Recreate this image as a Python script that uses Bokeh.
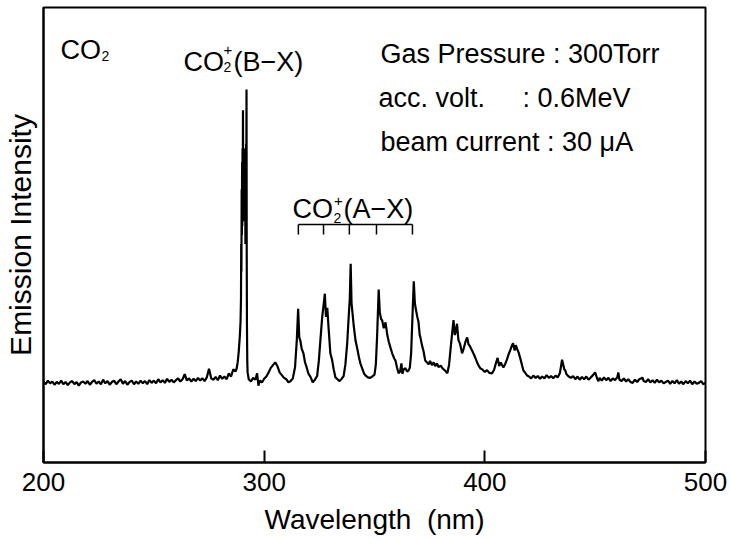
from bokeh.plotting import figure
from bokeh.models import Range1d, FixedTicker, Label
from bokeh.embed import file_html
from bokeh.resources import INLINE

# ---- spectrum (wavelength in nm, intensity in arbitrary units 0-100) ----
wavelength_nm = [
    200, 201, 202, 203, 204, 205, 206, 207, 208, 209, 210, 211, 212, 213, 214, 215, 216, 217, 218, 219,
    220, 221, 222, 223, 224, 225, 226, 227, 228, 229, 230, 231, 232, 233, 234, 235, 236, 237, 238, 239,
    240, 241, 242, 243, 244, 245, 246, 247, 248, 249, 250, 251, 252, 253, 254, 255, 256, 257, 258, 259,
    260, 261, 262, 263, 264, 265, 266, 267, 268, 269, 270, 271, 272, 273, 274, 275, 276, 277, 278, 279,
    280, 281, 282, 283, 284, 285, 286,
    287.0, 287.5, 288.0, 288.5, 289.0, 289.3, 289.5, 289.6, 289.7, 289.8, 289.9, 290.0, 290.1, 290.2,
    290.3, 290.4, 290.5, 290.6, 290.7, 290.8, 290.9, 291.0, 291.1, 291.2, 291.3, 291.4, 291.5, 291.6,
    291.7, 291.8, 291.9, 292.0, 292.1, 292.2, 292.35, 292.5,
    293, 294, 295, 296, 296.8, 297.4, 298, 299, 300, 301, 302, 303, 304, 305, 306, 307, 308, 309, 310,
    311, 312, 313, 314, 314.8, 315.4, 315.9, 316.4, 317, 317.8, 318.5, 319.2, 320, 321, 322, 323, 324,
    324.8, 325.5, 326.3, 326.9, 327.5, 328.0, 328.6, 329.2, 330, 330.8, 331.5, 332.3, 333, 334, 335, 336,
    336.8, 337.6, 338.3, 338.8, 339.2, 339.6, 340, 340.6, 341.4, 342.2, 343, 343.6, 344.5, 345.3, 346,
    347, 348, 349, 350, 350.6, 351.2, 351.9, 352.4, 353, 353.5, 354.2, 355, 355.8, 356.5, 357.2, 358,
    359, 359.5, 360.2, 360.9, 361.6, 362.2, 362.6, 363.3, 364, 364.8, 365.4, 366, 366.6, 367.2, 367.8,
    368.3, 368.8, 369.4, 369.9, 370.5, 370.8, 371.5, 372.2, 373, 373.8, 374.5, 375.2, 376, 376.8, 377.5,
    378.3, 379, 380, 381, 382, 383, 383.8, 384.4, 385, 385.8, 386.4, 386.9, 387.4, 388, 388.8, 389.7,
    390.4, 391.2, 392, 392.6, 393.3, 394.2, 395, 395.7, 396.5, 397.3, 398, 399, 400, 401, 402, 403.3,
    404.2, 405, 405.8, 406.5, 407.2, 408.4, 409.2, 410, 410.8, 411.6, 412.2, 412.8, 413.5, 414, 414.6,
    415.3, 416, 416.8, 417.5, 418.3, 419.2, 420, 421, 422, 423, 424, 425, 426, 427, 428, 429, 430, 431,
    432, 433, 434, 435, 436, 436.5, 437, 438, 439, 440, 441, 442, 443, 444, 445, 446, 447, 448, 449, 450,
    451, 451.5, 452, 453, 454, 455, 456, 457, 458, 459, 460, 460.5, 461, 462, 463, 464, 465, 466, 467,
    468, 469, 470, 471, 471.4, 472, 473, 474, 475, 476, 477, 478, 479, 480, 481, 482, 483, 484, 485, 486,
    487, 488, 489, 490, 491, 492, 493, 494, 495, 496, 497, 498, 499, 500,
]
intensity = [
    17.8, 17.2, 18.0, 17.4, 17.8, 17.1, 17.7, 17.3, 18.0, 17.2, 17.7, 17.0, 17.6, 17.9, 17.2, 17.7, 16.9, 17.6, 17.8, 17.3,
    17.9, 17.1, 17.7, 18.1, 17.3, 17.8, 17.2, 18.2, 17.4, 17.9, 17.1, 17.7, 18.0, 17.2, 17.8, 18.3, 17.3, 17.9, 17.1, 17.7,
    18.0, 17.2, 17.8, 17.3, 18.0, 17.4, 17.9, 17.2, 18.1, 17.5, 18.0, 17.4, 18.3, 17.6, 18.1, 17.5, 18.4, 17.7, 18.2, 17.6,
    18.1, 18.5, 17.8, 18.3, 19.4, 18.0, 18.5, 17.8, 18.4, 17.9, 18.6, 18.0, 18.5, 17.9, 18.7, 20.6, 18.5, 18.2, 18.8, 18.1,
    19.1, 18.4, 18.9, 18.3, 19.6, 18.9, 20.5,
    20.0, 20.6, 22.0, 24.5, 28.0, 31.0, 36.0, 48.0, 42.0, 60.0, 50.0, 66.0, 52.0, 69.0,
    58.0, 77.4, 56.0, 68.0, 54.0, 69.0, 55.0, 67.0, 53.0, 68.0, 56.0, 64.0, 48.0, 60.0,
    50.0, 70.0, 60.0, 82.0, 45.0, 30.0, 22.0, 19.8,
    18.3, 17.8, 18.6, 18.2, 19.6, 16.9, 18.0, 17.6, 18.4, 18.9, 19.8, 20.8, 21.4, 22.0, 21.2, 19.8, 19.2, 18.6, 18.3,
    17.6, 17.9, 18.5, 21.0, 27.0, 33.8, 27.5, 26.8, 25.0, 24.0, 22.0, 21.0, 19.6, 18.8, 17.6, 18.2, 19.0,
    22.5, 27.0, 32.0, 34.5, 37.1, 32.0, 34.0, 29.5, 24.0, 22.5, 20.5, 18.7, 18.4, 17.9, 18.3, 19.0,
    21.5, 26.0, 32.0, 36.0, 43.7, 35.0, 33.0, 30.0, 26.8, 25.0, 23.0, 21.8, 20.6, 19.5, 19.1,
    18.7, 18.6, 18.9, 19.3, 21.5, 28.0, 38.0, 33.0, 31.5, 31.2, 29.5, 30.8, 28.0, 26.5, 25.3, 24.0,
    22.8, 22.4, 20.9, 19.6, 20.0, 21.8, 19.5, 20.5, 20.7, 20.0, 20.2, 20.8, 24.0, 32.0, 39.8,
    35.0, 33.5, 32.0, 31.0, 28.0, 27.5, 25.8, 24.5, 22.4, 22.0, 21.6, 22.3, 21.4, 22.0, 21.2,
    21.8, 21.0, 21.3, 20.6, 20.2, 19.6, 21.5, 24.6, 27.5, 31.3, 28.0, 29.0, 30.5, 27.0, 26.0, 24.0,
    25.0, 26.5, 27.5, 26.0, 25.5, 24.6, 23.8, 23.0, 22.0, 21.2, 20.7, 20.4, 19.9, 20.3, 19.7, 19.6,
    20.4, 21.8, 23.0, 21.2, 22.0, 20.9, 21.6, 22.6, 23.8, 24.8, 25.6, 26.2, 24.6, 25.8, 25.0,
    24.2, 23.0, 21.5, 20.2, 19.7, 19.1, 18.9, 18.5, 19.1, 18.6, 19.0, 18.4, 18.9, 18.5, 19.2, 18.6, 19.0, 18.5,
    19.1, 18.7, 19.6, 22.6, 20.5, 20.2, 19.4, 18.9, 18.6, 19.0, 18.3, 18.9, 18.2, 18.8, 18.3, 18.9, 18.2, 18.7, 19.2, 19.8,
    18.3, 17.9, 18.6, 18.0, 18.7, 18.1, 18.6, 17.9, 18.5, 18.1, 18.7, 19.8, 18.2, 17.9, 18.5, 17.8, 18.3, 17.7, 17.5,
    18.2, 17.7, 18.3, 18.5, 18.7, 17.9, 17.7, 18.3, 17.6, 18.1, 17.5, 18.2, 17.6, 18.0, 17.4, 17.7, 18.0, 17.3, 17.9, 17.4,
    18.1, 17.3, 17.8, 17.2, 17.9, 17.4, 18.0, 17.2, 17.8, 17.3, 17.5, 17.9, 17.2, 17.5,
]

x_ticks = [200, 300, 400, 500]
band_heads_nm = [315.5, 326.9, 338.6, 350.9, 367.2]   # CO2+(A-X) bracket marks
bracket_top = 52.3
bracket_bottom = 50.1

FONT = "Liberation Sans"
PX_PER_UNIT = 4.55   # frame height 455 px for 100 intensity units

p = figure(frame_width=662, frame_height=455, output_backend="svg", toolbar_location=None,
           x_range=Range1d(200, 500), y_range=Range1d(0, 100),
           min_border_left=43, min_border_right=25, min_border_top=7, min_border_bottom=78,
           background_fill_color="white", border_fill_color="white")

p.grid.visible = False
p.outline_line_color = "black"
p.outline_line_width = 2
p.outline_line_alpha = 1.0

xa = p.xaxis[0]
xa.ticker = FixedTicker(ticks=x_ticks, minor_ticks=[])
xa.major_tick_in = 12
xa.major_tick_out = 0
xa.major_tick_line_width = 2
xa.major_tick_line_color = "black"
xa.axis_line_width = 2
xa.axis_line_color = "black"
xa.major_label_text_font = FONT
xa.major_label_text_font_size = "26px"
xa.major_label_text_color = "black"
xa.major_label_standoff = 10
xa.axis_label = "Wavelength \u00a0(nm)"
xa.axis_label_text_font = FONT
xa.axis_label_text_font_size = "28px"
xa.axis_label_text_font_style = "normal"
xa.axis_label_text_color = "black"
xa.axis_label_standoff = 10

ya = p.yaxis[0]
ya.ticker = FixedTicker(ticks=[], minor_ticks=[])
ya.major_tick_in = 0
ya.major_tick_out = 0
ya.axis_line_width = 2
ya.axis_line_color = "black"
ya.axis_label = "Emission Intensity"
ya.axis_label_text_font = FONT
ya.axis_label_text_font_size = "30px"
ya.axis_label_text_font_style = "normal"
ya.axis_label_text_color = "black"
ya.axis_label_standoff = 7

p.line(wavelength_nm, intensity, line_color="black", line_width=2.2)

# bracket over the CO2+(A-X) progression
p.line([band_heads_nm[0], band_heads_nm[-1]], [bracket_top, bracket_top], line_color="black", line_width=1.5)
p.segment(x0=band_heads_nm, y0=[bracket_top] * len(band_heads_nm),
          x1=band_heads_nm, y1=[bracket_bottom] * len(band_heads_nm),
          line_color="black", line_width=1.5)


def lab(x, y, text, size=27):
    # small empirical lift so that the alphabetic baseline lands where intended
    dy = 0.3 * size / PX_PER_UNIT
    p.add_layout(Label(x=x, y=y + dy, text=text, text_font=FONT, text_font_size=f"{size}px",
                       text_color="black", text_baseline="alphabetic", text_align="left"))


# "CO2" top-left
lab(207.7, 88.8, "CO")
lab(226.3, 88.5, "2", 14)
# CO2+(B-X)
lab(263.4, 86.3, "CO")
lab(281.6, 85.9, "2", 14)
lab(281.6, 89.6, "+", 15)
lab(286.1, 86.3, "(B\u2212X)")
# CO2+(A-X)
lab(312.8, 54.0, "CO")
lab(331.4, 52.9, "2", 14)
lab(331.6, 56.4, "+", 15)
lab(335.9, 54.0, "(A\u2212X)")
# conditions
lab(352.7, 88.0, "Gas Pressure : 300Torr")
lab(351.8, 78.4, "acc. volt.\u00a0\u00a0\u00a0\u00a0\u00a0: 0.6MeV")
lab(352.7, 68.6, "beam current : 30 \u03bcA")

open("out.html", "w").write(file_html(p, INLINE))
